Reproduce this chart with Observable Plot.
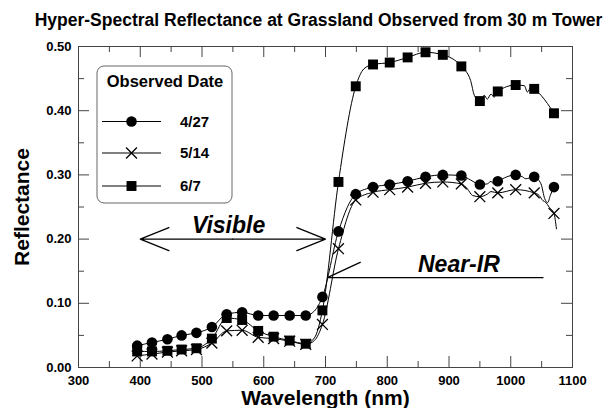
<!DOCTYPE html>
<html><head><meta charset="utf-8">
<script src="https://cdn.jsdelivr.net/npm/d3@7"></script>
<script src="https://cdn.jsdelivr.net/npm/@observablehq/plot@0.6"></script>
<style>
body{margin:0;background:#fff;}
#chart svg{display:block;}
</style></head><body><div id="chart"></div>
<script>
const chartTitle = "Hyper-Spectral Reflectance at Grassland Observed from 30 m Tower";
const xTitle = "Wavelength (nm)";
const yTitle = "Reflectance";
const legendTitle = "Observed Date";
const dates = ["4/27", "5/14", "6/7"];

// marker wavelengths (nm), shared by all three dates
const markerWl = [395, 419, 444, 467, 491, 516, 540, 565, 591, 616, 642, 668, 695, 721, 749, 777, 804, 833, 862, 890, 920, 950, 979, 1008, 1038, 1070];
const refl0427 = [0.034, 0.039, 0.044, 0.050, 0.054, 0.063, 0.083, 0.086, 0.081, 0.081, 0.081, 0.081, 0.110, 0.212, 0.270, 0.281, 0.285, 0.290, 0.297, 0.300, 0.299, 0.285, 0.290, 0.300, 0.297, 0.281];
const refl0514 = [0.018, 0.021, 0.024, 0.026, 0.028, 0.038, 0.057, 0.058, 0.047, 0.045, 0.041, 0.036, 0.067, 0.185, 0.261, 0.273, 0.277, 0.281, 0.287, 0.289, 0.286, 0.266, 0.272, 0.277, 0.272, 0.240];
const refl0607 = [0.025, 0.025, 0.026, 0.028, 0.030, 0.045, 0.077, 0.074, 0.057, 0.048, 0.042, 0.037, 0.089, 0.289, 0.438, 0.472, 0.475, 0.483, 0.491, 0.487, 0.469, 0.415, 0.430, 0.440, 0.434, 0.396];

// extra line vertices read between markers [wavelength, reflectance]
const between0427 = [[682, 0.088], [935, 0.292], [962, 0.286], [968, 0.290], [972, 0.286], [1019, 0.297], [1024, 0.294], [1049, 0.286], [1055, 0.263], [1060, 0.257], [1064, 0.268]];
const between0514 = [[682, 0.042], [930, 0.278], [938, 0.268], [962, 0.270], [968, 0.274], [1046, 0.268], [1052, 0.260], [1057, 0.257], [1062, 0.250], [1074, 0.216]];
const between0607 = [[682, 0.046], [762, 0.465], [935, 0.447], [941, 0.424], [957, 0.424], [962, 0.418], [968, 0.426], [973, 0.421], [1022, 0.439], [1027, 0.429], [1033, 0.437], [1049, 0.424]];

const xTicks = [300, 400, 500, 600, 700, 800, 900, 1000, 1100];
const xMinorTicks = [350, 450, 550, 650, 750, 850, 950, 1050];
const yTicks = [0.0, 0.1, 0.2, 0.3, 0.4, 0.5];
const yMinorTicks = [0.05, 0.15, 0.25, 0.35, 0.45];

// annotations (data coordinates)
const visibleLabel = {text: "Visible", x: 543, y: 0.221};
const visibleArrows = [{x1: 550, x2: 400, y: 0.2}, {x1: 550, x2: 700, y: 0.2}];
const nirLabel = {text: "Near-IR", x: 916, y: 0.161};
const nirLeaders = [{x1: 703, y1: 0.14, x2: 1053, y2: 0.14}, {x1: 703, y1: 0.14, x2: 757, y2: 0.164}];

const series = [refl0427, refl0514, refl0607];
const extras = [between0427, between0514, between0607];
const markers = dates.flatMap((d, i) => markerWl.map((w, j) => ({date: d, wl: w, r: series[i][j]})));
const lineRows = dates.flatMap((d, i) =>
  markerWl.map((w, j) => ({date: d, wl: w, r: series[i][j]}))
    .concat(extras[i].map(([w, r]) => ({date: d, wl: w, r})))
    .sort((a, b) => a.wl - b.wl));

const W = 605, H = 408;
const mL = 78, mR = 33, mT = 46, mB = 41;
const plotW = W - mL - mR, plotH = H - mT - mB;
const major = 11, minor = 6;
const font = "'Liberation Sans', Arial, Helvetica, sans-serif";
const axisColor = "#444";

const plot = Plot.plot({
  width: W, height: H,
  marginLeft: mL, marginRight: mR, marginTop: mT, marginBottom: mB,
  style: {fontFamily: font, fontSize: "13px", fontWeight: "bold", background: "#fff", color: "#000"},
  x: {domain: [300, 1100]},
  y: {domain: [0, 0.5]},
  marks: [
    Plot.tickX(xTicks, {x: d => d, insetTop: plotH - major, stroke: axisColor}),
    Plot.tickX(xMinorTicks, {x: d => d, insetTop: plotH - minor, stroke: axisColor}),
    Plot.tickX(xTicks, {x: d => d, insetBottom: plotH - major, stroke: axisColor}),
    Plot.tickX(xMinorTicks, {x: d => d, insetBottom: plotH - minor, stroke: axisColor}),
    Plot.tickY(yTicks, {y: d => d, insetRight: plotW - major, stroke: axisColor}),
    Plot.tickY(yMinorTicks, {y: d => d, insetRight: plotW - minor, stroke: axisColor}),
    Plot.tickY(yTicks, {y: d => d, insetLeft: plotW - major, stroke: axisColor}),
    Plot.tickY(yMinorTicks, {y: d => d, insetLeft: plotW - minor, stroke: axisColor}),
    Plot.frame({stroke: axisColor, strokeWidth: 1}),
    Plot.axisX({ticks: xTicks, tickSize: 0, tickPadding: 8, tickFormat: d => String(d), label: null, fontSize: 13}),
    Plot.axisY({ticks: yTicks, tickSize: 0, tickPadding: 7, tickFormat: d3.format(".2f"), label: null, fontSize: 13}),
    Plot.text([chartTitle], {text: d => d, frameAnchor: "top", dy: -26, dx: -7, fontSize: 17.5, fontWeight: "bold", textAnchor: "middle", lineAnchor: "middle"}),
    Plot.text([xTitle], {text: d => d, frameAnchor: "bottom", dy: 31, fontSize: 21, fontWeight: "bold", textAnchor: "middle", lineAnchor: "middle"}),
    Plot.text([yTitle], {text: d => d, frameAnchor: "left", dx: -56, rotate: -90, fontSize: 21, fontWeight: "bold", textAnchor: "middle", lineAnchor: "middle"}),
    Plot.line(lineRows, {x: "wl", y: "r", z: "date", stroke: "#000", strokeWidth: 1, curve: "monotone-x"}),
    Plot.dot(markers.filter(d => d.date === dates[0]), {x: "wl", y: "r", symbol: "circle", r: 5.3, fill: "#000", stroke: "none"}),
    Plot.dot(markers.filter(d => d.date === dates[1]), {x: "wl", y: "r", symbol: "times", r: 5, fill: "none", stroke: "#000", strokeWidth: 1.3}),
    Plot.dot(markers.filter(d => d.date === dates[2]), {x: "wl", y: "r", symbol: "square", r: 5.6, fill: "#000", stroke: "none"}),
    Plot.arrow(visibleArrows, {x1: "x1", x2: "x2", y1: "y", y2: "y", stroke: "#000", strokeWidth: 1.3, headLength: 40, headAngle: 44}),
    Plot.text([visibleLabel], {x: "x", y: "y", text: "text", fontSize: 23, fontWeight: "bold", fontStyle: "italic", textAnchor: "middle", lineAnchor: "middle"}),
    Plot.link(nirLeaders, {x1: "x1", y1: "y1", x2: "x2", y2: "y2", stroke: "#000", strokeWidth: 1.3}),
    Plot.text([nirLabel], {x: "x", y: "y", text: "text", fontSize: 23, fontWeight: "bold", fontStyle: "italic", textAnchor: "middle", lineAnchor: "middle"})
  ]
});

// legend box drawn inside the svg
const svg = d3.select(plot);
const lg = svg.append("g").attr("font-family", font).attr("font-weight", "bold");
lg.append("rect").attr("x", 97).attr("y", 66).attr("width", 135).attr("height", 137)
  .attr("rx", 7).attr("fill", "#fff").attr("stroke", "#666").attr("stroke-width", 1);
lg.append("text").attr("x", 165).attr("y", 81).attr("text-anchor", "middle").attr("dy", "0.35em")
  .attr("font-size", 16.5).text(legendTitle);
const legendSyms = [
  {type: d3.symbolCircle, r: 5.3, fill: "#000", stroke: "none", sw: 0},
  {type: d3.symbolTimes, r: 5, fill: "none", stroke: "#000", sw: 1.3},
  {type: d3.symbolSquare, r: 5.6, fill: "#000", stroke: "none", sw: 0}
];
const rowY = [121.5, 153, 186];
dates.forEach((d, i) => {
  const y = rowY[i];
  lg.append("line").attr("x1", 102).attr("x2", 161).attr("y1", y).attr("y2", y).attr("stroke", "#000").attr("stroke-width", 1);
  const s = legendSyms[i];
  lg.append("path").attr("transform", `translate(131.5,${y})`)
    .attr("d", d3.symbol().type(s.type).size(Math.PI * s.r * s.r)())
    .attr("fill", s.fill).attr("stroke", s.stroke).attr("stroke-width", s.sw);
  lg.append("text").attr("x", 180).attr("y", y).attr("dy", "0.35em").attr("text-anchor", "start")
    .attr("font-size", 15).text(d);
});

document.getElementById("chart").appendChild(plot);
</script>
</body></html>
